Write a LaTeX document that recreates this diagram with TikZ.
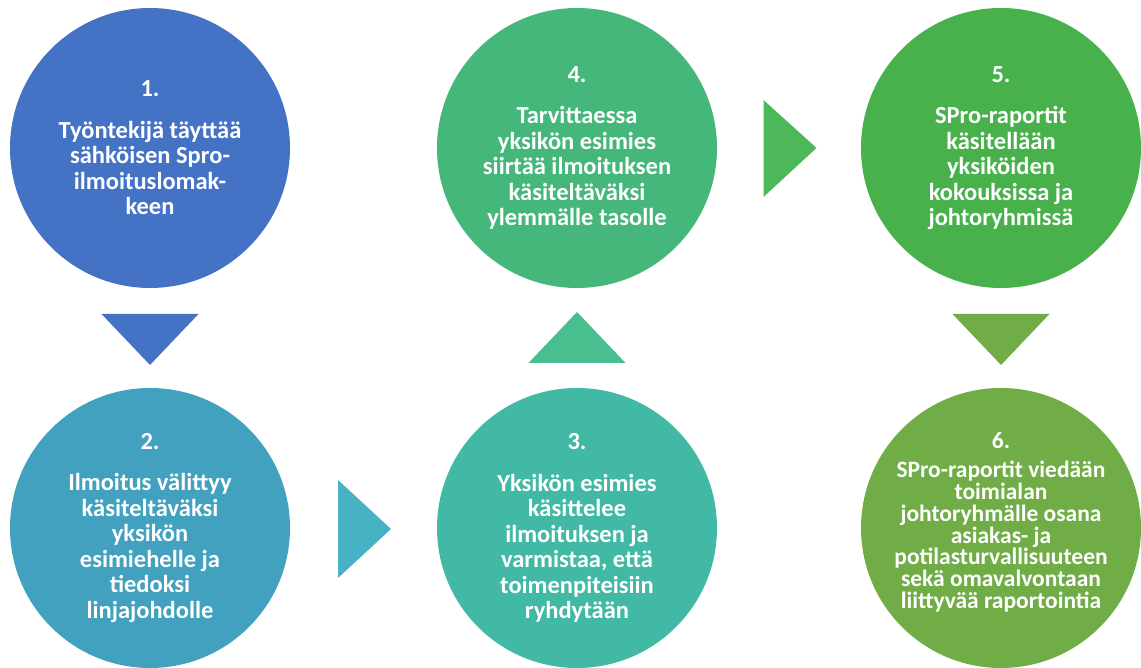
\documentclass[tikz,border=0pt]{standalone}
\usepackage{fontspec}
\setmainfont{Carlito}
\usetikzlibrary{positioning,calc}

\definecolor{phaseA}{HTML}{4472C4}
\definecolor{phaseB}{HTML}{41A1BE}
\definecolor{phaseC}{HTML}{41B9A4}
\definecolor{phaseD}{HTML}{45B77B}
\definecolor{phaseE}{HTML}{48B14B}
\definecolor{phaseF}{HTML}{70AD47}
\definecolor{arrowBC}{HTML}{47B2C4}
\definecolor{arrowCD}{HTML}{49BE8E}
\definecolor{arrowDE}{HTML}{4DB859}

\begin{document}
\begin{tikzpicture}[x=1pt, y=1pt,
    phase/.style={circle, minimum size=280pt, inner sep=0pt},
    phasetext/.style={text=white, align=center, font=\bfseries\fontsize{24.5}{25.5}\selectfont},
    smalltext/.style={text=white, align=center, font=\bfseries\fontsize{23.5}{21.7}\selectfont}]

    \useasboundingbox (0,0) rectangle (1141,668);

    % circles
    \node[phase, fill=phaseA] (c1) at (150,520) {};
    \node[phase, fill=phaseB] (c2) at (150,140) {};
    \node[phase, fill=phaseC] (c3) at (577,140) {};
    \node[phase, fill=phaseD] (c4) at (577,520) {};
    \node[phase, fill=phaseE] (c5) at (1001,520) {};
    \node[phase, fill=phaseF] (c6) at (1001,140) {};

    % texts
    \node[phasetext] (t1) at (c1) {1.\\[16pt]Työntekijä täyttää\\sähköisen Spro-\\ilmoituslomak-\\keen};
    \node[phasetext] (t2) at (c2) {2.\\[16pt]Ilmoitus välittyy\\käsiteltäväksi\\yksikön\\esimiehelle ja\\tiedoksi\\linjajohdolle};
    \node[phasetext] (t3) at (c3) {3.\\[16pt]Yksikön esimies\\käsittelee\\ilmoituksen ja\\varmistaa, että\\toimenpiteisiin\\ryhdytään};
    \node[phasetext] (t4) at (c4) {4.\\[16pt]Tarvittaessa\\yksikön esimies\\siirtää ilmoituksen\\käsiteltäväksi\\ylemmälle tasolle};
    \node[phasetext] (t5) at (c5) {5.\\[16pt]SPro-raportit\\käsitellään\\yksiköiden\\kokouksissa ja\\johtoryhmissä};
    \node[smalltext] (t6) at ($(c6)+(0,6)$) {6.\\[8pt]SPro-raportit viedään\\toimialan\\johtoryhmälle osana\\asiakas- ja\\potilasturvallisuuteen\\sekä omavalvontaan\\liittyvää raportointia};

    % arrows between the phases
    \coordinate (m12) at ($(c1)!0.5!(c2)$);
    \coordinate (m23) at ($(c2)!0.5!(c3)$);
    \coordinate (m34) at ($(c3)!0.5!(c4)$);
    \coordinate (m45) at ($(c4)!0.5!(c5)$);
    \coordinate (m56) at ($(c5)!0.5!(c6)$);

    \fill[phaseA] ($(m12)+(-48.5,24)$) -- ($(m12)+(48.5,24)$) -- ($(m12)+(0,-27)$) -- cycle;
    \fill[arrowBC] ($(m23)+(-25.5,48)$) -- ($(m23)+(27.5,-1)$) -- ($(m23)+(-25.5,-50)$) -- cycle;
    \fill[arrowCD] ($(m34)+(-48.5,-25)$) -- ($(m34)+(48.5,-25)$) -- ($(m34)+(0,26)$) -- cycle;
    \fill[arrowDE] ($(m45)+(-25.5,48)$) -- ($(m45)+(27.5,0)$) -- ($(m45)+(-25.5,-49)$) -- cycle;
    \fill[phaseF] ($(m56)+(-48.5,24)$) -- ($(m56)+(48.5,24)$) -- ($(m56)+(0,-27)$) -- cycle;

\end{tikzpicture}
\end{document}
